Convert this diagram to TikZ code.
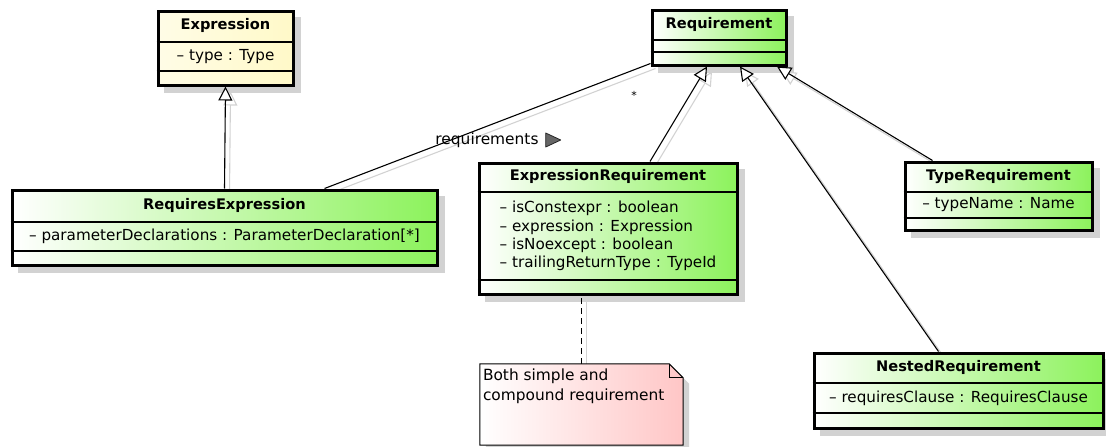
\documentclass[tikz,border=0pt]{standalone}
\usepackage{fontspec}
\setmainfont{DejaVu Sans}
\usetikzlibrary{arrows.meta,calc,fit}

\definecolor{umlgreen}{RGB}{140,242,92}
\definecolor{umlcream}{RGB}{255,249,200}
\definecolor{notepink}{RGB}{255,198,198}
\definecolor{shadowgray}{RGB}{210,210,210}

\pgfdeclarelayer{shadowlayer}
\pgfdeclarelayer{connlayer}
\pgfsetlayers{shadowlayer,connlayer,main}

\tikzset{
  classframe/.style={draw=black, line width=3pt, inner sep=0pt},
  greenclass/.style={classframe, left color=white, right color=umlgreen},
  creamclass/.style={classframe, left color=white!55!umlcream, right color=umlcream},
  sepline/.style={line width=1.2pt},
  titletext/.style={font=\fontsize{14.6}{17}\selectfont\bfseries, inner sep=0pt},
  attrtext/.style={font=\fontsize{15.2}{18.3}\selectfont, align=left, inner sep=0pt},
  generalization/.style={line width=1.1pt,
    -{Triangle[length=14pt,width=14pt,fill=white,line width=1.1pt]}},
  shadowgen/.style={line width=1.1pt, draw=shadowgray,
    -{Triangle[open,length=14pt,width=14pt,line width=1.1pt]}},
  association/.style={line width=1.1pt},
  notelink/.style={line width=1.2pt, dash pattern=on 6pt off 4pt},
  notebody/.style={draw=black, line width=1pt, left color=white, right color=notepink},
  plaintext/.style={font=\fontsize{15.4}{19.5}\selectfont, inner sep=0pt, align=left},
  dirtri/.style={fill=black!60, draw=black!85, line width=0.8pt, line join=round},
}

% A UML class: name, style, top-left, bottom-right, y of the two rules,
% class name and attribute lines.
\newcommand\umlclass[8]{%
  \coordinate (#1-nw) at (#3);
  \coordinate (#1-se) at (#4);
  \begin{pgfonlayer}{shadowlayer}
    \fill[shadowgray] ($(#1-nw)+(6,6)$) rectangle ($(#1-se)+(7.5,7.5)$);
  \end{pgfonlayer}
  \node[#2, fit=(#1-nw)(#1-se)] (#1) {};
  \draw[sepline] (#1.west |- 0,#5) -- (#1.east |- 0,#5);
  \draw[sepline] (#1.west |- 0,#6) -- (#1.east |- 0,#6);
  \node[titletext] at ($(#1.north)!0.5!(#1.north |- 0,#5)$) {#7};
  \node[attrtext] at ($(#1.north |- 0,#5)!0.5!(#1.north |- 0,#6)$) {#8};
}

\begin{document}
\begin{tikzpicture}[x=1pt, y=-1pt]
\useasboundingbox (0,0) rectangle (1106,447);

\umlclass{expr}{creamclass}{158,11}{293,85}{42}{71}{Expression}{-- type : Type}
\umlclass{req}{greenclass}{652,10}{786,65}{40}{52}{Requirement}{}
\umlclass{reqexpr}{greenclass}{12,190}{437,265}{222}{251}{RequiresExpression}
  {-- parameterDeclarations : ParameterDeclaration[*]}
\umlclass{exprreq}{greenclass}{479,163}{737,294}{192}{280}{ExpressionRequirement}
  {-- isConstexpr : boolean\\-- expression : Expression\\-- isNoexcept : boolean\\-- trailingReturnType : TypeId}
\umlclass{typereq}{greenclass}{905,162}{1092,230}{192}{218}{TypeRequirement}{-- typeName : Name}
\umlclass{nestreq}{greenclass}{814,353}{1103,428}{383}{413}{NestedRequirement}
  {-- requiresClause : RequiresClause}

% note with a folded corner
\coordinate (note-nw) at (480,364);
\coordinate (note-se) at (683,445);
\node[fit=(note-nw)(note-se), inner sep=0pt] (note) {};
\begin{pgfonlayer}{shadowlayer}
  \fill[shadowgray, transform canvas={shift={(6pt,-6pt)}}]
    (note.north west) -- ([xshift=-14pt]note.north east) -- ([yshift=-14pt]note.north east)
    -- (note.south east) -- (note.south west) -- cycle;
\end{pgfonlayer}
\draw[notebody] (note.north west) -- ([xshift=-14pt]note.north east)
  -- ([yshift=-14pt]note.north east) -- (note.south east) -- (note.south west) -- cycle;
\draw[line width=1pt] ([xshift=-14pt]note.north east) -- ([xshift=-14pt,yshift=-14pt]note.north east)
  -- ([yshift=-14pt]note.north east);
\node[plaintext, anchor=north west] (notetext) at ([xshift=3pt,yshift=-5pt]note.north west)
  {Both simple and\\compound requirement};

% connectors and their shadows
\begin{pgfonlayer}{connlayer}
  \begin{scope}[transform canvas={shift={(5pt,-5pt)}}]
    \draw[shadowgen] (reqexpr.north) -- (expr.south);
    \draw[shadowgen] ([xshift=42pt]exprreq.north) -- ([xshift=-12pt]req.south);
    \draw[shadowgen] ([xshift=-20pt]nestreq.north) -- ([xshift=21pt]req.south);
    \draw[shadowgen] ([xshift=-66pt]typereq.north) -- ([xshift=58pt]req.south);
    \draw[association, shadowgray] ([xshift=100pt]reqexpr.north) -- ([yshift=3pt]req.south west);
    \draw[line width=1.2pt, shadowgray] (note.north) -- (note.north |- exprreq.south);
  \end{scope}
  \draw[generalization] (reqexpr.north) -- (expr.south);
  \draw[generalization] ([xshift=42pt]exprreq.north) -- ([xshift=-12pt]req.south);
  \draw[generalization] ([xshift=-20pt]nestreq.north) -- ([xshift=21pt]req.south);
  \draw[generalization] ([xshift=-66pt]typereq.north) -- ([xshift=58pt]req.south);
  \draw[association] ([xshift=100pt]reqexpr.north) -- ([yshift=3pt]req.south west);
  \draw[notelink] (note.north) -- (note.north |- exprreq.south);
\end{pgfonlayer}

% association labels
\node[plaintext] (assoclabel) at (487,140) {requirements};
\draw[dirtri] ($(assoclabel.east)+(7,-7)$) -- ++(0,14) -- ++(15,-7) -- cycle;
\node[plaintext, font=\fontsize{11}{13}\selectfont] (mult) at (634,95) {*};
\end{tikzpicture}
\end{document}
